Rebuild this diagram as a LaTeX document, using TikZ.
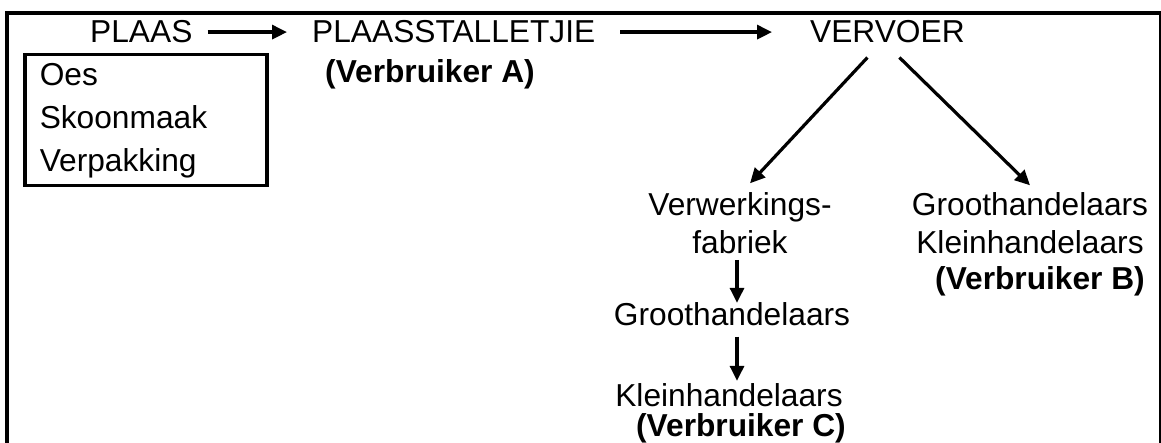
\documentclass[tikz,border=0pt]{standalone}
\usepackage{fontspec}
\setmainfont{Liberation Sans}
\usetikzlibrary{arrows.meta}

\begin{document}
\begin{tikzpicture}[x=1pt, y=-1pt,
    lbl/.style={inner sep=0pt, font=\fontsize{31.7}{38}\selectfont},
    arr/.style={line width=3.2pt, -{Triangle[length=15pt, width=14pt]}}]
    \useasboundingbox (0, 0) rectangle (1161, 443);
    % frame
    \draw[line width=4pt] (7, 443) -- (7, 13) -- (1160, 13);
    \draw[line width=1.2pt] (1160, 11) -- (1160, 443);
    % top row
    \node[lbl, anchor=base west] (plaas) at (90, 43) {PLAAS};
    \node[lbl, anchor=base west] (stal) at (312, 43) {PLAASSTALLETJIE};
    \node[lbl, anchor=base west] (vervoer) at (810, 43) {VERVOER};
    \node[lbl, anchor=base west, font=\fontsize{31.7}{38}\selectfont\bfseries] (verba) at (325, 83) {(Verbruiker A)};
    \node[lbl, draw, line width=3.5pt, anchor=north west, align=left, text width=212pt,
        minimum height=131pt, inner xsep=15pt, font=\fontsize{31.7}{43}\selectfont] (steps) at (23, 53) {Oes\\Skoonmaak\\Verpakking};
    \draw[arr] ([xshift=15pt]plaas.east) -- ([xshift=-25pt]stal.west);
    \draw[arr] ([xshift=25pt]stal.east) -- ([xshift=-38pt]vervoer.west);
    % left branch
    \node[lbl, anchor=north, align=center] (verw) at (740, 192.3) {Verwerkings-\\fabriek};
    \node[lbl, anchor=base] (groot) at (732, 326) {Groothandelaars};
    \node[lbl, anchor=base] (klein) at (729, 406) {Kleinhandelaars};
    \node[lbl, anchor=base, font=\fontsize{31.7}{38}\selectfont\bfseries] (verbc) at (741, 436) {(Verbruiker C)};
    % right branch
    \node[lbl, anchor=north, align=center] (gk) at (1030, 192.3) {Groothandelaars\\Kleinhandelaars};
    \node[lbl, anchor=base, font=\fontsize{31.7}{38}\selectfont\bfseries] (verbb) at (1040, 290) {(Verbruiker B)};
    \draw[arr] ([xshift=-20pt, yshift=-14pt]vervoer.south) -- ([xshift=10pt, yshift=9pt]verw.north);
    \draw[arr] ([xshift=12pt, yshift=-14pt]vervoer.south) -- ([yshift=7pt]gk.north);
    \draw[arr] ([xshift=-3pt, yshift=-6pt]verw.south) -- ([xshift=-3pt]verw.south |- groot.north);
    \draw[arr] ([xshift=5pt, yshift=-10pt]groot.south) -- ([xshift=5pt, yshift=2pt]groot.south |- klein.north);
\end{tikzpicture}
\end{document}
